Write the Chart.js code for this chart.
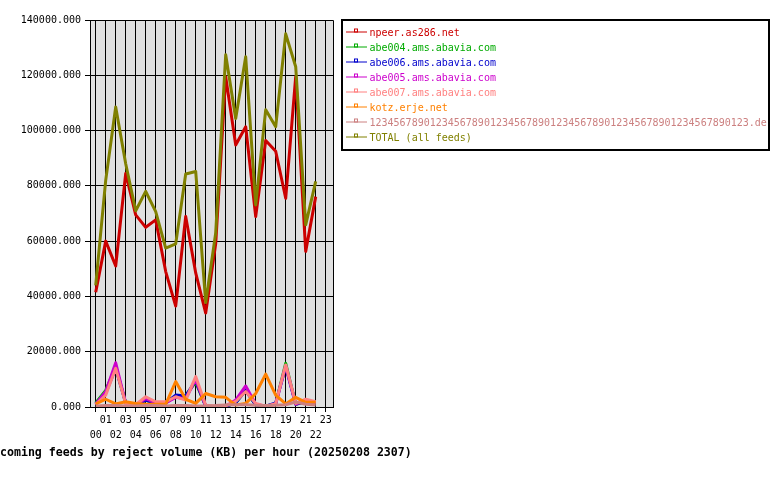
<!DOCTYPE html>
<html>
<head>
<meta charset="utf-8">
<script src="https://cdn.jsdelivr.net/npm/chart.js@4/dist/chart.umd.min.js"></script>
<style>
html,body{margin:0;padding:0;background:#fff;}
#wrap{width:780px;height:480px;position:relative;overflow:hidden;}
canvas{display:block;}
</style>
</head>
<body>
<div id="wrap"><canvas id="c" width="780" height="480"></canvas></div>
<script>
// ---- data ----
const hours = ['00','01','02','03','04','05','06','07','08','09','10','11','12','13','14','15','16','17','18','19','20','21','22','23'];
const yTicks = [0, 20000, 40000, 60000, 80000, 100000, 120000, 140000];
const seriesNames = ['npeer.as286.net','abe004.ams.abavia.com','abe006.ams.abavia.com','abe005.ams.abavia.com','abe007.ams.abavia.com','kotz.erje.net','123456789012345678901234567890123456789012345678901234567890123.de','TOTAL (all feeds)'];
const npeer  = [41500,60000,51000,84500,69500,65000,67700,49000,36500,68900,48500,34000,59000,119500,94800,101400,68900,96400,92500,75500,119500,56300,76100];
const abe004 = [1500,6000,14500,1500,500,2500,1200,1500,4000,4200,9000,300,200,200,1500,6000,800,300,1200,15800,1000,2000,1500];
const abe006 = [1200,5000,14000,1500,500,2500,1200,1500,4300,4000,9500,300,200,200,1500,6000,800,300,1500,14500,1000,2000,1500];
const abe005 = [1000,5500,16000,1300,800,3000,1500,1500,3500,3000,10000,300,200,300,2500,7600,1000,300,1000,15000,1000,2500,1500];
const abe007 = [800,4300,14000,1200,800,3700,1900,1900,3700,2500,11000,600,300,500,2000,5600,1300,300,1200,15200,1300,2800,1900];
const kotz   = [1100,2800,1100,1900,1300,1000,1000,1000,9200,2800,1300,4900,3700,3500,700,1300,4900,11900,4300,1100,3500,1700,1700];
const longde = [400,500,500,400,400,500,500,400,500,500,400,400,500,700,800,800,600,500,600,800,1800,1000,700];
const total  = [44000,82000,108500,88000,71000,78000,70700,57500,59000,84300,85200,37800,63000,127400,104400,126700,73100,107500,101400,135000,123100,65900,81600];
const titleText = 'Incoming feeds by reject volume (KB) per hour (20250208 2307)';

// ---- styles ----
const colors = ['#cc0000','#00aa00','#0000cc','#cc00cc','#ff8080','#ff8000','#cc8080','#808000'];
const allSeries = [npeer, abe004, abe006, abe005, abe007, kotz, longde, total];
const MONO = '"DejaVu Sans Mono", "Liberation Mono", monospace';

const datasets = allSeries.map((arr, i) => ({
  label: seriesNames[i],
  data: arr,
  borderColor: colors[i],
  backgroundColor: colors[i],
  borderWidth: 3,
  borderJoinStyle: 'round',
  pointRadius: 0,
  tension: 0,
  fill: false,
  order: -i
}));

const decor = {
  id: 'decor',
  beforeDraw(chart) {
    const {ctx, chartArea: a} = chart;
    ctx.save();
    ctx.fillStyle = '#ffffff';
    ctx.fillRect(0, 0, chart.width, chart.height);
    ctx.fillStyle = '#e0e0e0';
    ctx.fillRect(a.left, a.top, a.right - a.left, a.bottom - a.top);
    ctx.restore();
  },
  afterDraw(chart) {
    const {ctx, chartArea: a} = chart;
    ctx.save();
    // plot frame (top & right)
    ctx.strokeStyle = '#000';
    ctx.lineWidth = 1;
    ctx.beginPath();
    ctx.moveTo(Math.round(a.left) + 0.5, Math.round(a.top) + 0.5);
    ctx.lineTo(Math.round(a.right) + 0.5, Math.round(a.top) + 0.5);
    ctx.lineTo(Math.round(a.right) + 0.5, Math.round(a.bottom) + 0.5);
    ctx.stroke();

    // legend box
    ctx.lineWidth = 2;
    ctx.strokeRect(342, 20, 427, 130);
    ctx.font = '10px ' + MONO;
    ctx.textBaseline = 'middle';
    ctx.textAlign = 'left';
    chart.data.datasets.forEach((ds, i) => {
      const y = 33.5 + 15 * i;
      ctx.strokeStyle = ds.borderColor;
      ctx.lineWidth = 1;
      ctx.beginPath();
      ctx.moveTo(346, y - 1.5);
      ctx.lineTo(367, y - 1.5);
      ctx.stroke();
      ctx.strokeRect(354.5, y - 4.5, 3, 3);
      ctx.fillStyle = ds.borderColor;
      ctx.fillText(ds.label, 369.5, y);
    });

    // title (bottom)
    ctx.fillStyle = '#000';
    ctx.font = 'bold 11.6px ' + MONO;
    ctx.textBaseline = 'middle';
    ctx.textAlign = 'left';
    ctx.fillText(titleText, -14, 452.5);
    ctx.restore();
  }
};

new Chart(document.getElementById('c'), {
  type: 'line',
  data: { labels: hours.slice(0, total.length), datasets },
  options: {
    responsive: false,
    animation: false,
    devicePixelRatio: 1,
    layout: { padding: { left: 20, right: 447, top: 20, bottom: 33 } },
    plugins: { legend: { display: false }, tooltip: { enabled: false }, title: { display: false } },
    scales: {
      x: {
        type: 'linear',
        min: -0.57,
        max: 23.73,
        afterBuildTicks: s => { s.ticks = hours.map((h, i) => ({ value: i })); },
        afterFit: s => { s.height = 40; },
        ticks: {
          autoSkip: false,
          maxRotation: 0,
          minRotation: 0,
          padding: 1,
          color: '#000',
          font: { family: MONO, size: 10, lineHeight: 1.5 },
          callback: (v) => { const lab = hours[v]; return v % 2 ? [lab] : ['', lab]; }
        },
        grid: { color: '#000', lineWidth: 1, tickLength: 5, drawTicks: true },
        border: { color: '#000', width: 1 }
      },
      y: {
        min: 0,
        max: 140000,
        afterBuildTicks: s => { s.ticks = yTicks.map(v => ({ value: v })); },
        afterFit: s => { s.width = 70; },
        ticks: {
          padding: 4,
          color: '#000',
          font: { family: MONO, size: 10 },
          callback: v => Number(v).toFixed(3)
        },
        grid: { color: '#000', lineWidth: 1, tickLength: 5 },
        border: { color: '#000', width: 1 }
      }
    }
  },
  plugins: [decor]
});
</script>
</body>
</html>
